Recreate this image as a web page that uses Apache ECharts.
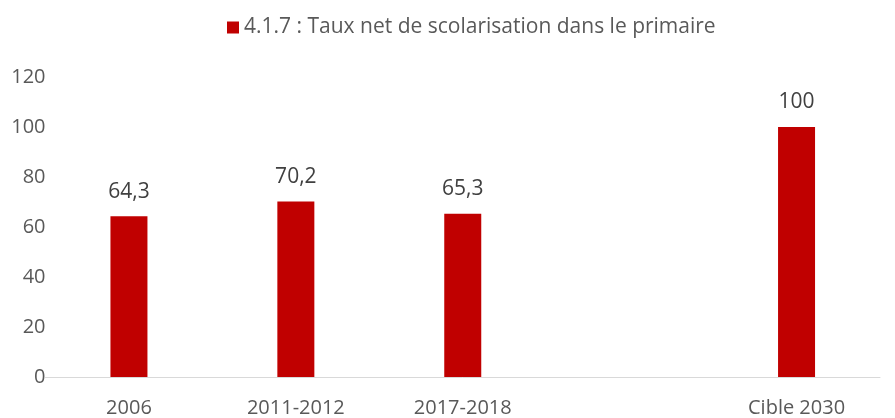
<!DOCTYPE html>
<html><head><meta charset="utf-8">
<script src="https://cdn.jsdelivr.net/npm/echarts@6/dist/echarts.min.js"></script>
<style>html,body{margin:0;padding:0;background:#fff}#c{width:895px;height:418px}</style>
</head><body><div id="c"></div>
<script>
const categories = ['2006', '2011-2012', '2017-2018', '', 'Cible 2030'];
const values = [64.3, 70.2, 65.3, null, 100];
const valueLabels = ['64,3', '70,2', '65,3', '', '100'];
const yTicks = [0, 20, 40, 60, 80, 100, 120];
const seriesName = '4.1.7 : Taux net de scolarisation dans le primaire';

const font = 'Open Sans';
const chart = echarts.init(document.getElementById('c'), null, {renderer: 'canvas'});
chart.setOption({
  animation: false,
  backgroundColor: '#fff',
  legend: {
    top: 12, left: 222, itemWidth: 12, itemHeight: 12, itemGap: 5,
    icon: 'rect',
    textStyle: {fontFamily: font, fontSize: 21, color: '#595959'},
    data: [seriesName]
  },
  grid: {left: 45.5, right: 15, top: 77, bottom: 41, containLabel: false},
  xAxis: {
    type: 'category', data: categories,
    axisLine: {lineStyle: {color: '#d9d9d9', width: 1}},
    axisTick: {show: false},
    axisLabel: {fontFamily: font, fontSize: 20, color: '#595959', margin: 21, interval: 0}
  },
  yAxis: {
    type: 'value', min: yTicks[0], max: yTicks[yTicks.length - 1], interval: 20,
    axisLine: {show: false}, axisTick: {show: false}, splitLine: {show: false},
    axisLabel: {fontFamily: font, fontSize: 20, color: '#595959', margin: 0}
  },
  series: [{
    name: seriesName, type: 'bar', data: values, barWidth: 37,
    itemStyle: {color: '#c00000'},
    label: {
      show: true, position: 'top', distance: 14,
      fontFamily: font, fontSize: 21, color: '#404040',
      formatter: p => valueLabels[p.dataIndex]
    }
  }]
});
</script></body></html>
